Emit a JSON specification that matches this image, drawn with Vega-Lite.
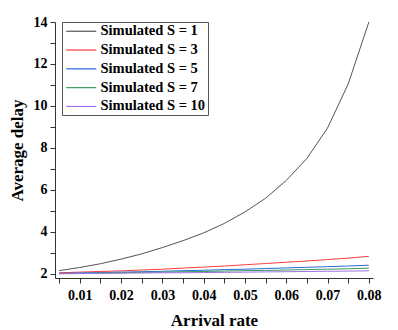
{
  "$schema": "https://vega.github.io/schema/vega-lite/v6.json",
  "autosize": {"type": "none"},
  "padding": {"left": 55, "top": 22, "right": 25, "bottom": 52},
  "width": 318,
  "height": 256,
  "background": "white",
  "config": {
    "view": {"stroke": null},
    "font": "Liberation Serif",
    "axis": {
      "labelFont": "Liberation Serif", "labelFontWeight": "bold", "labelFontSize": 14, "labelColor": "black",
      "titleFont": "Liberation Serif", "titleFontWeight": "bold", "titleFontSize": 17, "titleColor": "black",
      "domainColor": "#333", "tickColor": "#333", "grid": false
    }
  },
  "data": {"values": [
    {"rate": 0.005, "S1": 2.15, "S3": 2.05, "S5": 2.02, "S7": 2.01, "S10": 2.00},
    {"rate": 0.010, "S1": 2.30, "S3": 2.08, "S5": 2.04, "S7": 2.02, "S10": 2.01},
    {"rate": 0.015, "S1": 2.48, "S3": 2.11, "S5": 2.06, "S7": 2.04, "S10": 2.02},
    {"rate": 0.020, "S1": 2.70, "S3": 2.14, "S5": 2.08, "S7": 2.05, "S10": 2.03},
    {"rate": 0.025, "S1": 2.95, "S3": 2.18, "S5": 2.10, "S7": 2.07, "S10": 2.04},
    {"rate": 0.030, "S1": 3.25, "S3": 2.22, "S5": 2.12, "S7": 2.08, "S10": 2.05},
    {"rate": 0.035, "S1": 3.58, "S3": 2.27, "S5": 2.15, "S7": 2.10, "S10": 2.05},
    {"rate": 0.040, "S1": 3.95, "S3": 2.32, "S5": 2.17, "S7": 2.11, "S10": 2.06},
    {"rate": 0.045, "S1": 4.40, "S3": 2.37, "S5": 2.20, "S7": 2.13, "S10": 2.07},
    {"rate": 0.050, "S1": 4.95, "S3": 2.43, "S5": 2.22, "S7": 2.15, "S10": 2.08},
    {"rate": 0.055, "S1": 5.60, "S3": 2.49, "S5": 2.25, "S7": 2.16, "S10": 2.09},
    {"rate": 0.060, "S1": 6.45, "S3": 2.55, "S5": 2.28, "S7": 2.18, "S10": 2.10},
    {"rate": 0.065, "S1": 7.50, "S3": 2.61, "S5": 2.31, "S7": 2.20, "S10": 2.11},
    {"rate": 0.070, "S1": 8.95, "S3": 2.68, "S5": 2.34, "S7": 2.22, "S10": 2.12},
    {"rate": 0.075, "S1": 11.05, "S3": 2.75, "S5": 2.37, "S7": 2.24, "S10": 2.13},
    {"rate": 0.080, "S1": 14.00, "S3": 2.83, "S5": 2.41, "S7": 2.27, "S10": 2.14}
  ]},
  "transform": [
    {"fold": ["S1", "S3", "S5", "S7", "S10"], "as": ["key", "delay"]},
    {"lookup": "key", "from": {"data": {"values": [
      {"key": "S1", "series": "Simulated S = 1"},
      {"key": "S3", "series": "Simulated S = 3"},
      {"key": "S5", "series": "Simulated S = 5"},
      {"key": "S7", "series": "Simulated S = 7"},
      {"key": "S10", "series": "Simulated S = 10"}
    ]}, "key": "key", "fields": ["series"]}}
  ],
  "mark": {"type": "line", "strokeWidth": 1, "clip": true},
  "encoding": {
    "x": {
      "field": "rate", "type": "quantitative",
      "scale": {"domain": [0.004, 0.081], "nice": false, "zero": false},
      "axis": {
        "title": "Arrival rate",
        "values": [0.005, 0.01, 0.015, 0.02, 0.025, 0.03, 0.035, 0.04, 0.045, 0.05, 0.055, 0.06, 0.065, 0.07, 0.075, 0.08],
        "labelExpr": "round(datum.value*1000) % 10 == 0 ? format(datum.value, '.2f') : ''",
        "tickSize": 5, "labelPadding": 5, "titlePadding": 10, "labelFlush": false, "labelOverlap": false,
        "encode": {"ticks": {"update": {"y2": {"signal": "round(datum.value*1000) % 10 == 0 ? 5 : 3"}}}}
      }
    },
    "y": {
      "field": "delay", "type": "quantitative",
      "scale": {"domain": [1.8, 14], "nice": false, "zero": false},
      "axis": {
        "title": "Average delay",
        "values": [2, 3, 4, 5, 6, 7, 8, 9, 10, 11, 12, 13, 14],
        "labelExpr": "datum.value % 2 == 0 ? format(datum.value, 'd') : ''",
        "tickSize": 5, "labelPadding": 3, "titlePadding": 7, "labelFlush": false, "labelOverlap": false,
        "encode": {"ticks": {"update": {"x2": {"signal": "datum.value % 2 == 0 ? -5 : -3"}}}}
      }
    },
    "color": {
      "field": "series", "type": "nominal",
      "scale": {
        "domain": ["Simulated S = 1", "Simulated S = 3", "Simulated S = 5", "Simulated S = 7", "Simulated S = 10"],
        "range": ["#555555", "#ff3b3b", "#2a6ad8", "#3a9a5a", "#a070e8"]
      },
      "legend": {
        "title": null, "orient": "none", "legendX": 7, "legendY": 0,
        "symbolType": "M-1,0H5", "symbolSize": 100, "symbolStrokeWidth": 1.2,
        "labelFont": "Liberation Serif", "labelFontWeight": "bold", "labelFontSize": 14.5, "labelColor": "black",
        "labelOffset": 22, "rowPadding": 3.8, "padding": 2, "strokeColor": "#555", "fillColor": "white",
        "labelLimit": 200
      }
    }
  }
}
